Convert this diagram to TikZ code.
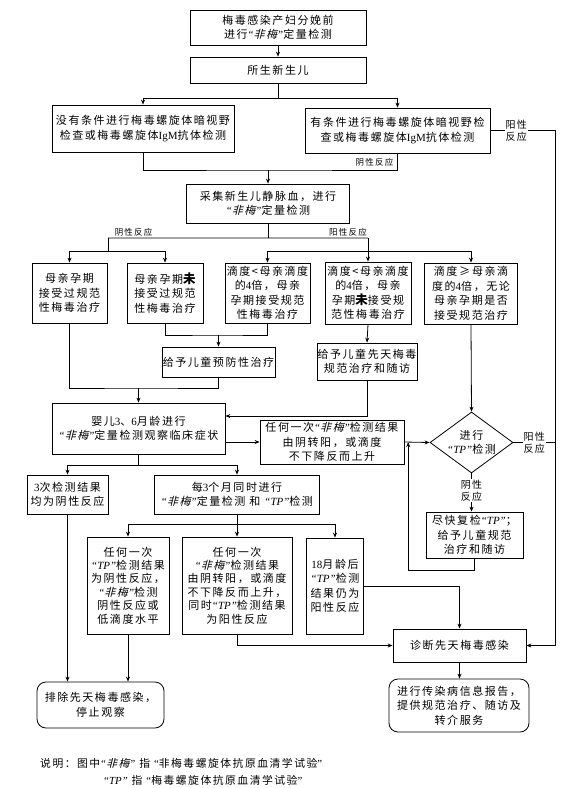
\documentclass[tikz,border=0pt]{standalone}
\usepackage{fontspec}
\setmainfont{Noto Sans CJK SC}[LetterSpace=14]
\newfontfamily\cjkit{Noto Sans CJK SC}[FakeSlant=0.25,LetterSpace=14]
\newfontfamily\lat{Liberation Serif}
\usetikzlibrary{arrows.meta,shapes.geometric}
\newcommand\FMq{{\lat\itshape “}{\cjkit 非梅}{\lat\itshape ”}}
\newcommand\TPq{{\lat\itshape “TP”}}
\newcommand\WEI{{\fontsize{12.5}{14}\selectfont\bfseries 未}}
\begin{document}
\begin{tikzpicture}[x=1pt,y=-1pt,
  box/.style={draw,line width=0.8pt,align=center,inner sep=0pt,font=\fontsize{11}{14.5}\selectfont},
  rbox/.style={box,rounded corners=9pt},
  tall/.style={font=\fontsize{11}{13.4}\selectfont},
  diam/.style={draw,line width=0.8pt,diamond,inner sep=0pt},
  lab/.style={align=center,inner sep=1pt,font=\fontsize{10}{12.5}\selectfont},
  slab/.style={align=center,inner sep=1pt,font=\fontsize{8.5}{10}\selectfont},
  arr/.style={line width=0.8pt,-{Stealth[length=5pt,width=4pt]}},
  ln/.style={line width=0.8pt},
  note/.style={anchor=west,inner sep=0pt,font=\fontsize{10.8}{13}\selectfont}]
\useasboundingbox (0,0) rectangle (562,788);

\node[box,minimum width=176pt,minimum height=35pt] (top) at (278,27.5) {梅毒感染产妇分娩前\\进行\FMq 定量检测};
\node[box,minimum width=176pt,minimum height=26pt] (newborn) at (278,70) {所生新生儿};
\node[box,minimum width=182pt,minimum height=47pt] (nocond) at (143,128.5) {没有条件进行梅毒螺旋体暗视野\\检查或梅毒螺旋体{\lat IgM}抗体检测};
\node[box,minimum width=185pt,minimum height=45pt] (cond) at (397.5,130.5) {有条件进行梅毒螺旋体暗视野检\\查或梅毒螺旋体{\lat IgM}抗体检测};
\node[box,minimum width=163pt,minimum height=39pt] (collect) at (268,203.5) {采集新生儿静脉血，进行\\\FMq 定量检测};

\node[box,minimum width=75pt,minimum height=60pt] (A) at (69.5,293) {母亲孕期\\接受过规范\\性梅毒治疗};
\node[box,minimum width=76pt,minimum height=60pt] (B) at (165,293) {母亲孕期\WEI\\接受过规范\\性梅毒治疗};
\node[box,minimum width=85pt,minimum height=60pt] (C) at (267.5,293) {滴度<母亲滴度\\的{\lat 4}倍，母亲\\孕期接受规范\\性梅毒治疗};
\node[box,minimum width=86pt,minimum height=62pt] (D) at (368,293) {滴度<母亲滴度\\的{\lat 4}倍，母亲\\孕期\WEI 接受规\\范性梅毒治疗};
\node[box,minimum width=93pt,minimum height=61pt] (E) at (471,293.5) {滴度\,≥\,母亲滴\\度的{\lat 4}倍，无论\\母亲孕期是否\\接受规范治疗};

\node[box,minimum width=113pt,minimum height=30pt] (prev) at (218.5,362) {给予儿童预防性治疗};
\node[box,minimum width=100pt,minimum height=37pt] (cong) at (367,361.5) {给予儿童先天梅毒\\规范治疗和随访};

\node[box,minimum width=173pt,minimum height=51pt] (infant) at (138.5,428.5) {婴儿{\lat 3}、{\lat 6}月龄进行\\\FMq 定量检测观察临床症状};
\node[box,minimum width=144pt,minimum height=44pt] (any) at (332,442) {任何一次\FMq 检测结果\\由阴转阳，或滴度\\不下降反而上升};
\node[diam,minimum width=83pt,minimum height=61pt,
  label={[box,draw=none]center:进行\\\TPq 检测}] (dia) at (471.5,442.5) {};
\node[box,minimum width=97pt,minimum height=46pt] (recheck) at (474.5,535) {尽快复检\TPq；\\给予儿童规范\\治疗和随访};

\node[box,minimum width=81pt,minimum height=39pt] (three) at (67.5,494.5) {{\lat 3}次检测结果\\均为阴性反应};
\node[box,minimum width=165pt,minimum height=39pt] (every) at (237,494.5) {每{\lat 3}个月同时进行\\\FMq 定量检测 和 \TPq 检测};

\node[box,tall,minimum width=82pt,minimum height=97pt] (F) at (128,585.5) {任何一次\\\TPq 检测结果\\为阴性反应，\\\FMq 检测\\阴性反应或\\低滴度水平};
\node[box,tall,minimum width=110pt,minimum height=97pt] (G) at (237,585.5) {任何一次\\\FMq 检测结果\\由阴转阳，或滴度\\不下降反而上升，\\同时\TPq 检测结果\\为阳性反应};
\node[box,minimum width=57pt,minimum height=96pt] (H) at (335,586) {{\lat 18}月龄后\\\TPq 检测\\结果仍为\\阳性反应};

\node[rbox,minimum width=127pt,minimum height=46pt] (exclude) at (100.5,705) {排除先天梅毒感染，\\停止观察};
\node[box,minimum width=133pt,minimum height=33pt] (diag) at (459.5,645.5) {诊断先天梅毒感染};
\node[rbox,minimum width=140pt,minimum height=53pt] (report) at (459,705.5) {进行传染病信息报告，\\提供规范治疗、随访及\\转介服务};

\node[note] (note1) at (40,763) {说明：图中\FMq\ 指 {\lat “}非梅毒螺旋体抗原血清学试验{\lat ”}};
\node[note] (note2) at (103,780) {\TPq\ 指 {\lat “}梅毒螺旋体抗原血清学试验{\lat ”}};

% coordinates
\coordinate (R) at (555,0);
\coordinate (j1) at (268,170);

% connectors
\draw[arr] (top) -- (newborn);
\draw[ln] (newborn.south) -- ++(0,15) coordinate (j0);
\draw[arr] (j0) -| (nocond.north);
\draw[arr] (j0) -| (cond.north);
\draw[ln] (nocond.south) |- (j1) -- (cond.south |- j1) -- (cond.south);
\node[slab,anchor=east] (l1) at ([xshift=-3pt,yshift=8pt]cond.south |- j1) {阴性反应};
\draw[arr] (j1) -- (collect.north);
\draw[arr] (cond.east) -- node[lab,fill=white,pos=0.4] (l2) {阳性\\反应} (cond.east -| R) |- (diag.east);

\draw[ln] (collect.south) -- ++(0,14.5) coordinate (j2);
\coordinate (nl) at (108,238);
\coordinate (pr) at (368,238);
\draw[ln] (nl) -- node[slab,above,pos=0.16] (l3) {阴性反应} (j2) -- node[slab,above,pos=0.8] (l4) {阳性反应} (pr);
\draw[ln] (nl) -- ++(0,13) coordinate (nl2);
\draw[arr] (nl2) -| (A.north);
\draw[arr] (nl2) -| (B.north);
\draw[arr] (pr) -- (D.north);
\coordinate (pr2) at (368,251);
\draw[arr] (pr2) -| (C.north);
\draw[arr] (pr2) -| (E.north);

\coordinate (j3) at (218.5,335);
\draw[ln] (B.south) |- (j3) -| (C.south);
\draw[arr] (j3) -- (prev.north);
\coordinate (j4) at (138.5,388);
\draw[ln] (A.south) |- (j4) -| (prev.south);
\draw[arr] (j4) -- (infant.north);
\draw[arr] (D.south) -- (cong.north);
\draw[arr] (cong.south) |- ([yshift=12.5pt]infant.east);
\draw[arr] (infant.east |- any.west) -- (any.west);
\draw[arr] (any.east) -- (dia.west);
\path (any.east) -- (dia.west) coordinate[pos=0.15] (jx);
\draw[arr] (E.south) -- (dia.north);
\draw[arr] (dia.south) -- node[lab,fill=white,pos=0.45] (l5) {阴性\\反应} (dia.south |- recheck.north);
\draw[arr] (recheck.south) -- ++(0,12) -| (jx);
\draw[ln] (dia.east) -- node[lab,fill=white] (l6) {阳性\\反应} (dia.east -| R);

\draw[ln] (infant.south) -- ++(0,11) coordinate (j5);
\draw[arr] (j5) -| (three.north);
\draw[arr] (j5) -| (every.north);
\draw[ln] (every.south) -- ++(0,10) coordinate (j6);
\draw[arr] (j6) -| (F.north);
\draw[arr] (j6) -- (G.north);
\draw[arr] (j6) -| (H.north);

\draw[arr] (three.south) -- (three.south |- exclude.north);
\draw[arr] (F.south) -- (F.south |- exclude.north);
\draw[arr] (G.south) |- (diag.west);
\draw[arr] (H.east) -| (diag.north);
\draw[arr] (diag.south) -- (diag.south |- report.north);
\end{tikzpicture}
\end{document}
